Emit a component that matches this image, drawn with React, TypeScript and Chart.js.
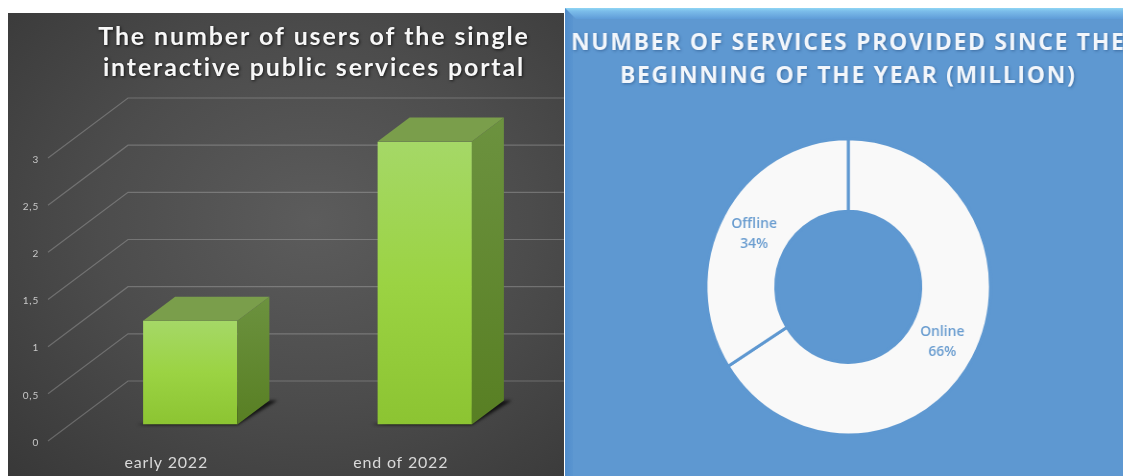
import React, { useEffect, useRef } from "react";
import { Chart, registerables } from "chart.js";
Chart.register(...registerables);

const barCategories = ["early 2022", "end of 2022"];
const barValues = [1.1, 3.0];
const barTitle = ["The number of users of the single", "interactive public services portal"];
const donutCategories = ["Online", "Offline"];
const donutValues = [66, 34];
const donutTitle = ["NUMBER OF SERVICES PROVIDED SINCE THE", "BEGINNING OF THE YEAR (MILLION)"];

const DEPTH_X = 32;
const DEPTH_Y = 24;

function titleStyle(spacing: string, shadow: string, shiftX: number) {
  return {
    id: "titleStyle",
    beforeDraw(chart: any) {
      const tb = chart.titleBlock;
      if (tb && !tb.__wrapped) {
        const orig = tb.draw.bind(tb);
        tb.draw = () => {
          const c = chart.ctx;
          c.save();
          c.translate(shiftX, 0);
          c.letterSpacing = spacing;
          c.shadowColor = shadow;
          c.shadowBlur = 3;
          c.shadowOffsetX = 1;
          c.shadowOffsetY = 1;
          orig();
          c.restore();
        };
        tb.__wrapped = true;
      }
    },
  };
}

const perspective = {
  id: "perspective",
  beforeDraw(chart: any) {
    chart.ctx.letterSpacing = "0.8px";
  },
  beforeDatasetsDraw(chart: any) {
    const { ctx, scales, chartArea, width } = chart;
    const y = scales.y;
    ctx.save();
    ctx.strokeStyle = "rgba(255,255,255,0.22)";
    ctx.lineWidth = 1.2;
    for (const t of y.ticks) {
      const py = y.getPixelForValue(t.value);
      ctx.beginPath();
      ctx.moveTo(chartArea.left - 25, py + 16.5);
      ctx.lineTo(chartArea.left + 55, py - 43.5);
      ctx.lineTo(width, py - 43.5);
      ctx.stroke();
    }
    ctx.restore();
    // soft ground shadow under each bar
    const meta = chart.getDatasetMeta(0);
    ctx.save();
    ctx.fillStyle = "rgba(10,10,10,0.85)";
    ctx.filter = "blur(1.5px)";
    meta.data.forEach((b: any) => {
      const r = b.x + b.width / 2;
      const l = b.x - b.width / 2;
      ctx.beginPath();
      ctx.moveTo(l - 6, b.base + 0.5);
      ctx.lineTo(r, b.base + 0.5);
      ctx.lineTo(r + DEPTH_X + 8, b.base - DEPTH_Y);
      ctx.lineTo(r + DEPTH_X, b.base - DEPTH_Y);
      ctx.closePath();
      ctx.fill();
    });
    ctx.restore();
  },
  afterDatasetsDraw(chart: any) {
    const { ctx } = chart;
    const meta = chart.getDatasetMeta(0);
    ctx.save();
    meta.data.forEach((b: any) => {
      const r = b.x + b.width / 2;
      const l = b.x - b.width / 2;
      const side = ctx.createLinearGradient(0, b.y - DEPTH_Y, 0, b.base);
      side.addColorStop(0, "#6c923f");
      side.addColorStop(1, "#587f23");
      ctx.fillStyle = side;
      ctx.beginPath();
      ctx.moveTo(r, b.y);
      ctx.lineTo(r + DEPTH_X, b.y - DEPTH_Y);
      ctx.lineTo(r + DEPTH_X, b.base - DEPTH_Y);
      ctx.lineTo(r, b.base);
      ctx.closePath();
      ctx.fill();
      ctx.fillStyle = "#7a9e4b";
      ctx.beginPath();
      ctx.moveTo(l, b.y);
      ctx.lineTo(l + DEPTH_X, b.y - DEPTH_Y);
      ctx.lineTo(r + DEPTH_X, b.y - DEPTH_Y);
      ctx.lineTo(r, b.y);
      ctx.closePath();
      ctx.fill();
    });
    ctx.restore();
  },
};

const arcLabels = {
  id: "arcLabels",
  afterDatasetsDraw(chart: any) {
    const { ctx } = chart;
    const meta = chart.getDatasetMeta(0);
    ctx.save();
    ctx.font = "600 14.5px 'Open Sans'";
    ctx.fillStyle = "#6a9dd0";
    ctx.textAlign = "center";
    ctx.textBaseline = "middle";
    meta.data.forEach((arc: any, i: number) => {
      const p = arc.getCenterPoint();
      ctx.fillText(donutCategories[i], p.x, p.y - 9);
      ctx.fillText(`${donutValues[i]}%`, p.x, p.y + 11);
    });
    ctx.restore();
  },
};

export default function App() {
  const barRef = useRef<HTMLCanvasElement>(null);
  const donutRef = useRef<HTMLCanvasElement>(null);

  useEffect(() => {
    const bar = new Chart(barRef.current!, {
      type: "bar",
      data: {
        labels: barCategories,
        datasets: [
          {
            data: barValues,
            barPercentage: 0.402,
            categoryPercentage: 1,
            borderWidth: 0,
            backgroundColor: (c: any) => {
              const y = c.chart.scales.y;
              if (!y || c.raw === undefined) return "#9bd24a";
              const top = y.getPixelForValue(c.raw);
              const bottom = y.getPixelForValue(0);
              if (!Number.isFinite(top) || !Number.isFinite(bottom)) return "#9bd24a";
              const g = c.chart.ctx.createLinearGradient(0, top, 0, bottom);
              g.addColorStop(0, "#a5d867");
              g.addColorStop(0.5, "#9bd343");
              g.addColorStop(1, "#8cc432");
              return g;
            },
          },
        ],
      },
      options: {
        animation: false,
        responsive: false,
        layout: { padding: { left: 0, right: 22, top: 0, bottom: 0 } },
        plugins: {
          legend: { display: false },
          tooltip: { enabled: false },
          title: {
            display: true,
            text: barTitle,
            color: "#f7f7f7",
            font: { family: "Lato", weight: "bold", size: 25, lineHeight: 1.24 },
            padding: { top: 8, bottom: 58.5 },
          },
        },
        scales: {
          x: {
            grid: { display: false },
            border: { display: false },
            ticks: {
              color: "#d9d9d9",
              font: { family: "Lato", size: 16 },
              labelOffset: -24,
              padding: 21,
              maxRotation: 0,
            },
            afterFit: (s: any) => {
              s.height = 51.5;
            },
          },
          y: {
            min: 0,
            max: 3,
            grid: { display: false },
            border: { display: false },
            ticks: {
              stepSize: 0.5,
              color: "#c8c8c8",
              font: { family: "Lato", size: 10 },
              labelOffset: 18,
              padding: 26,
              callback: (v: any) => String(v).replace(".", ","),
            },
            afterFit: (s: any) => {
              s.width = 65;
            },
          },
        },
      },
      plugins: [perspective, titleStyle("1.85px", "rgba(0,0,0,0.7)", 39)],
    } as any);

    const donut = new Chart(donutRef.current!, {
      type: "doughnut",
      data: {
        labels: donutCategories,
        datasets: [
          {
            data: donutValues,
            backgroundColor: "#f9f9f9",
            borderColor: "#5e98d1",
            borderWidth: 3,
          },
        ],
      },
      options: {
        animation: false,
        responsive: false,
        cutout: "51%",
        layout: { padding: { bottom: 39.5 } },
        plugins: {
          legend: { display: false },
          tooltip: { enabled: false },
          title: {
            display: true,
            text: donutTitle,
            color: "#f2f6fb",
            font: { family: "Open Sans", weight: "bold", size: 24, lineHeight: 1.4 },
            padding: { top: 18, bottom: 44 },
          },
        },
      },
      plugins: [arcLabels, titleStyle("1.7px", "rgba(40,80,130,0.6)", 0)],
    } as any);

    return () => {
      bar.destroy();
      donut.destroy();
    };
  }, []);

  return (
    <div style={{ position: "fixed", left: 0, top: 0, width: 1123, height: 476, background: "#fff", overflow: "hidden" }}>
      <div
        style={{
          position: "absolute",
          left: 8,
          top: 13,
          width: 556,
          height: 463,
          background: "radial-gradient(ellipse at 55% 45%, #5c5c5c 0%, #4c4c4c 50%, #383838 100%)",
        }}
      >
        <canvas ref={barRef} width={556} height={463} style={{ display: "block" }} />
      </div>
      <div
        style={{
          position: "absolute",
          left: 565,
          top: 8,
          width: 558,
          height: 468,
          overflow: "hidden",
          background: "#5e98d1",
        }}
      >
        <div style={{ position: "absolute", left: 0, top: 0, width: 8, height: 468, background: "linear-gradient(90deg, #4f8ccb, #5a95d0)" }} />
        <div
          style={{
            position: "absolute",
            left: 0,
            top: 0,
            width: 558,
            height: 11,
            background: "linear-gradient(180deg, #8fd6f4 0px, #7cbdea 3px, #5f9cd8 11px)",
            clipPath: "polygon(0 0, 100% 0, 100% 100%, 11px 100%)",
          }}
        />
        <canvas
          ref={donutRef}
          width={590}
          height={468}
          style={{ display: "block", position: "absolute", left: 0, top: 0, transform: "scaleX(0.96)", transformOrigin: "0 0" }}
        />
      </div>
    </div>
  );
}
